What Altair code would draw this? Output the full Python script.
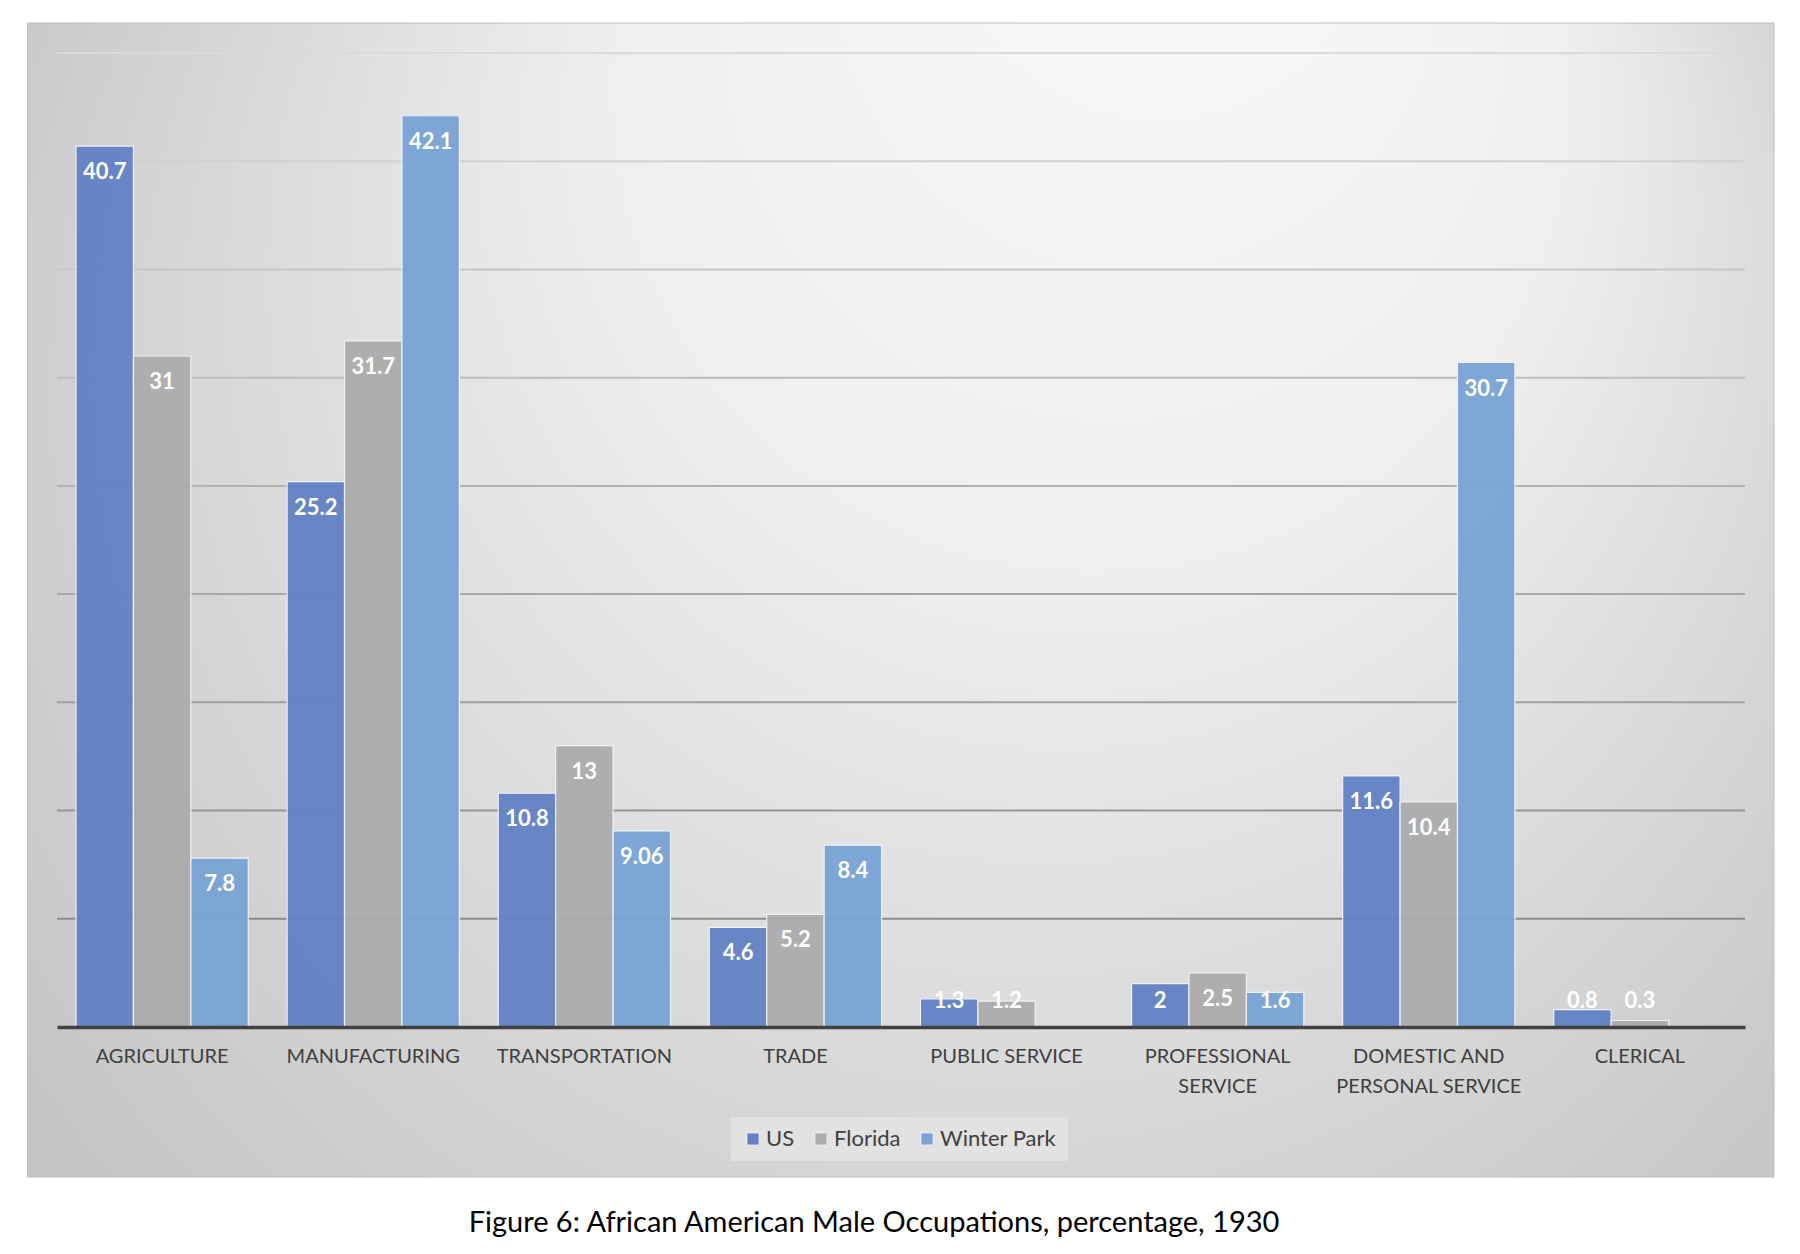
import altair as alt
import pandas as pd

categories = ["AGRICULTURE", "MANUFACTURING", "TRANSPORTATION", "TRADE",
              "PUBLIC SERVICE", "PROFESSIONAL\nSERVICE",
              "DOMESTIC AND\nPERSONAL SERVICE", "CLERICAL"]
series = ["US", "Florida", "Winter Park"]
us = [40.7, 25.2, 10.8, 4.6, 1.3, 2, 11.6, 0.8]
florida = [31, 31.7, 13, 5.2, 1.2, 2.5, 10.4, 0.3]
winter_park = [7.8, 42.1, 9.06, 8.4, None, 1.6, 30.7, None]
colors = ["#6381C4", "#ACACAC", "#79A3D6"]
grid_values = [5, 10, 15, 20, 25, 30, 35, 40, 45]
caption = "Figure 6: African American Male Occupations, percentage, 1930"

rows = []
for name, vals in zip(series, [us, florida, winter_park]):
    for cat, v in zip(categories, vals):
        if v is not None:
            rows.append({"category": cat, "series": name, "value": v})
df = pd.DataFrame(rows)

W, H = 1688, 974
FONT = "Lato"

y_scale = alt.Scale(domain=[0, 45], nice=False, zero=True)
x_scale = alt.Scale(paddingInner=0.184, paddingOuter=0.09)
xoff_scale = alt.Scale(domain=series, paddingInner=0, paddingOuter=0)

x_axis = alt.Axis(title=None, labelAngle=0, ticks=False, grid=False, zindex=1,
                  domainColor="#404040", domainWidth=3.5,
                  labelFont=FONT, labelFontSize=20, labelColor="#404040",
                  labelPadding=19.5, labelLineHeight=30, labelLimit=400,
                  labelExpr="split(datum.label, '\\n')")

gradient = {
    "gradient": "radial",
    "x1": 0.68, "y1": 0.02, "r1": 0,
    "x2": 0.5, "y2": 0.5, "r2": 0.70,
    "stops": [
        {"offset": 0, "color": "#fbfbfb"},
        {"offset": 0.4, "color": "#eeeeee"},
        {"offset": 0.7, "color": "#d4d4d4"},
        {"offset": 1, "color": "#bcbcbc"},
    ],
}

panel = alt.Chart(alt.Data(values=[{}])).mark_rect(
    fill=gradient, stroke="#bdbdbd", strokeWidth=1
).encode(
    x=alt.value(-29.5), x2=alt.value(W + 29),
    y=alt.value(-30), y2=alt.value(H + 150),
)

rules = alt.Chart(pd.DataFrame({"v": grid_values})).mark_rule(strokeWidth=2).encode(
    y=alt.Y("v:Q", scale=y_scale, axis=None),
    x=alt.value(0), x2=alt.value(W),
    stroke=alt.Stroke("v:Q", scale=alt.Scale(domain=[5, 45], range=["#8c8c8c", "#dadada"]),
                      legend=None),
)

base = alt.Chart(df)

bars = base.mark_bar(stroke="#eef1f6", strokeWidth=1.2, fillOpacity=0.96).encode(
    x=alt.X("category:N", sort=categories, scale=x_scale, axis=x_axis),
    xOffset=alt.XOffset("series:N", sort=series, scale=xoff_scale),
    y=alt.Y("value:Q", scale=y_scale, axis=None),
    color=alt.Color("series:N", sort=series,
                    scale=alt.Scale(domain=series, range=colors),
                    legend=alt.Legend(title=None, orient="none", legendX=674, legendY=1064,
                                      direction="horizontal", symbolType="square",
                                      symbolSize=150, symbolStrokeColor="#f2f2f2",
                                      symbolStrokeWidth=1, labelFont=FONT, labelFontSize=22,
                                      labelColor="#404040", fillColor="#e2e2e2",
                                      padding=11, columnPadding=15, labelOffset=2)),
)

labels = base.transform_calculate(
    labelpos="max(datum.value, 2.38)"
).mark_text(color="white", font=FONT, fontWeight="bold", fontSize=22,
            baseline="middle", align="center", dy=26).encode(
    x=alt.X("category:N", sort=categories, scale=x_scale, axis=x_axis),
    xOffset=alt.XOffset("series:N", sort=series, scale=xoff_scale),
    y=alt.Y("labelpos:Q", scale=y_scale, axis=None),
    text=alt.Text("value:Q", format="~g"),
)

cap = alt.Chart(alt.Data(values=[{"t": caption}])).mark_text(
    font=FONT, fontSize=29, color="black", align="center", baseline="middle"
).encode(text="t:N", x=alt.value(817), y=alt.value(1170))

chart = alt.layer(panel, rules, bars, labels, cap).properties(
    width=W, height=H,
    autosize=alt.AutoSizeParams(type="none"),
    padding={"left": 49, "top": 45, "right": 47, "bottom": 219},
    background="white",
).configure_view(strokeOpacity=0)

chart.save("out.html", embed_options={"renderer": "svg", "actions": False})
